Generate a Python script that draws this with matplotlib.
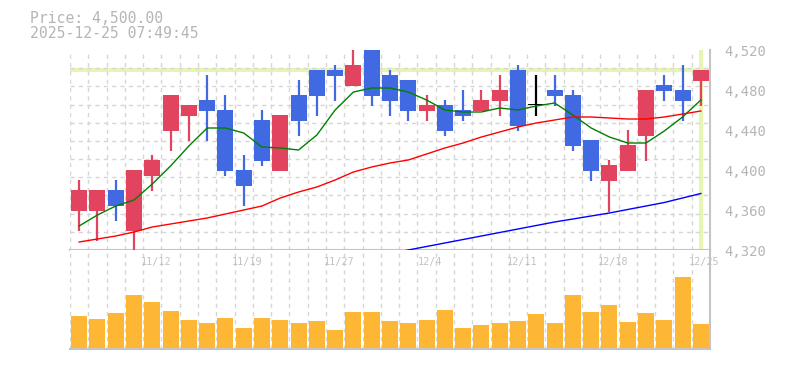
import numpy as np
import matplotlib
matplotlib.use("Agg")
import matplotlib.pyplot as plt
import matplotlib.transforms as mtransforms

# daily candles, 2025-11-06 .. 2025-12-25 (35 trading days)
opens  = [4359, 4359, 4380, 4339, 4394, 4439, 4454, 4470, 4460, 4400, 4450, 4399,
          4475, 4500, 4500, 4484, 4521, 4495, 4490, 4459, 4465, 4460, 4459, 4469,
          4500, 4465, 4480, 4475, 4430, 4389, 4399, 4434, 4485, 4480, 4489]
highs  = [4390, 4380, 4390, 4400, 4415, 4475, 4465, 4495, 4475, 4415, 4460, 4455,
          4490, 4500, 4505, 4523, 4521, 4500, 4490, 4475, 4470, 4480, 4480, 4495,
          4505, 4495, 4495, 4480, 4430, 4410, 4440, 4480, 4495, 4505, 4500]
lows   = [4339, 4329, 4349, 4318, 4379, 4419, 4429, 4429, 4394, 4364, 4404, 4399,
          4434, 4454, 4469, 4484, 4464, 4454, 4449, 4449, 4434, 4449, 4459, 4454,
          4439, 4454, 4464, 4419, 4389, 4358, 4399, 4409, 4469, 4449, 4464]
closes = [4380, 4380, 4364, 4400, 4410, 4475, 4465, 4459, 4399, 4384, 4409, 4455,
          4449, 4474, 4494, 4505, 4474, 4469, 4459, 4465, 4439, 4454, 4470, 4480,
          4444, 4465, 4474, 4424, 4399, 4405, 4425, 4480, 4479, 4469, 4500]
volume = [97, 88, 106, 160, 139, 112, 85, 76, 91, 61, 91, 85, 76, 82, 55, 109, 109, 82,
          76, 85, 115, 61, 70, 76, 82, 103, 76, 160, 109, 130, 79, 106, 85, 214, 73]

ma5  = [4344, 4355, 4364, 4370, 4386, 4404, 4424, 4442, 4442, 4437, 4423, 4422,
        4420, 4435, 4460, 4478, 4482, 4482, 4478, 4470, 4460, 4458, 4458, 4462,
        4460, 4464, 4467, 4455, 4442, 4433, 4427, 4427, 4439, 4453, 4470]
ma25 = [4328, 4331, 4334, 4338, 4343, 4346, 4349, 4352, 4356, 4360, 4364, 4372,
        4378, 4383, 4390, 4398, 4403, 4407, 4410, 4416, 4422, 4427, 4433, 4438,
        4443, 4447, 4450, 4453, 4453, 4452, 4451, 4451, 4453, 4456, 4459]
ma75_start = 17
ma75 = [4316.5, 4320, 4323.5, 4327, 4330.5, 4334, 4337.5, 4341, 4344.5, 4348,
        4351, 4354, 4357, 4360.5, 4364, 4367.5, 4372, 4376.5]

date_idx = [4, 9, 14, 19, 24, 29, 34]
date_lbl = ["11/12", "11/19", "11/27", "12/4", "12/11", "12/18", "12/25"]
price_ticks = [4320, 4360, 4400, 4440, 4480, 4520]
last_price = 4500

UP = "#e2435f"
DOWN = "#4169e1"
GRID = "#d6d6d6"
SPINE = "#c4c4c4"
TXT = "#b5b5b5"
MONO = "DejaVu Sans Mono"

n = len(opens)
x = np.arange(n)

fig = plt.figure(figsize=(7.85, 3.70), dpi=100)
ax = fig.add_axes([70/785, 120/370, 640/785, 200/370])
axv = fig.add_axes([70/785, 21/370, 640/785, 99/370], sharex=ax)

# price panel
ax.set_xlim(-0.5, n - 0.5)
ax.set_ylim(4320, 4520)
ax.axhline(last_price, color="#e6f5b2", lw=3, zorder=1)
ax.axvline(n - 1, color="#e6f5b2", lw=3, zorder=1)

cols = []
for o, c in zip(opens, closes):
    cols.append(UP if c > o else (DOWN if c < o else "black"))
bottoms = [min(o, c) for o, c in zip(opens, closes)]
heights = [max(abs(c - o), 1.2) for o, c in zip(opens, closes)]
ax.vlines(x, lows, highs, colors=cols, lw=1.6, zorder=3)
ax.bar(x, heights, bottom=bottoms, width=0.87, color=cols, zorder=4)

ax.plot(x, ma5, color="#008000", lw=1, zorder=5)
ax.plot(x, ma25, color="#ff0000", lw=1, zorder=5)
ax.plot(np.arange(ma75_start, ma75_start + len(ma75)), ma75, color="#0000ff", lw=1, zorder=5)

ax.set_yticks(price_ticks)
ax.set_yticks(np.linspace(4320, 4520, 12), minor=True)
ax.set_xticks(np.arange(-0.5, n, 1), minor=True)
ax.set_xticks([])
ax.yaxis.tick_right()
ax.set_yticklabels([f"{p:,}" for p in price_ticks], fontfamily=MONO, fontsize=10, color=TXT)
ax.tick_params(axis="both", which="both", length=0)
ax.tick_params(axis="y", pad=10)
ax.grid(which="minor", color=GRID, ls=(0, (3, 3)), lw=1)
for s in ["top", "left"]:
    ax.spines[s].set_visible(False)
for s in ["right", "bottom"]:
    ax.spines[s].set_color(SPINE)
    ax.spines[s].set_linewidth(1.5)

# volume panel
axv.bar(x, volume, width=0.87, color="#fdb734", zorder=3)
axv.set_ylim(-3, 296)
axv.set_yticks([])
axv.tick_params(axis="both", which="both", length=0, labelbottom=False)
axv.grid(which="minor", axis="x", color=GRID, ls=(0, (3, 3)), lw=1)
for s in ["top", "left"]:
    axv.spines[s].set_visible(False)
for s in ["right", "bottom"]:
    axv.spines[s].set_color(SPINE)
    axv.spines[s].set_linewidth(1.5)

trans = mtransforms.blended_transform_factory(axv.transData, axv.transAxes)
for i, lbl in zip(date_idx, date_lbl):
    axv.text(i + 0.2, 0.88, lbl, transform=trans, ha="center", va="center",
             fontfamily=MONO, fontsize=7.3, color="#c2c2c2", zorder=6)

fig.text(30/785, 1 - 22.7/370, f"Price: {last_price:,.2f}", fontfamily=MONO,
         fontsize=10.6, color=TXT, va="baseline")
fig.text(30/785, 1 - 37.5/370, "2025-12-25 07:49:45", fontfamily=MONO,
         fontsize=10.6, color=TXT, va="baseline")

fig.savefig("out.png", dpi=100)
